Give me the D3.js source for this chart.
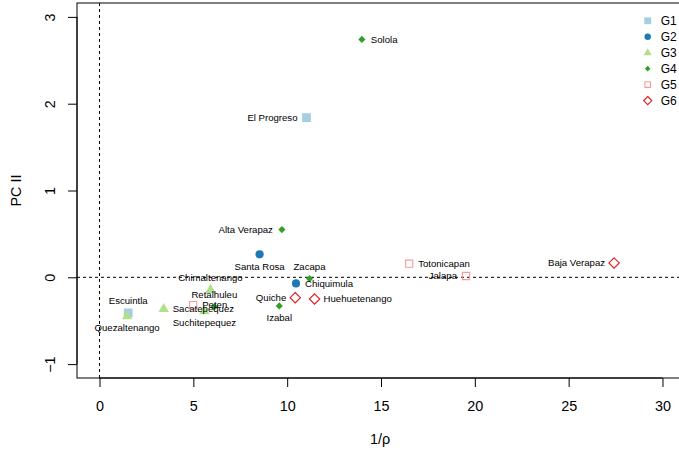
<!DOCTYPE html>
<html>
<head>
<meta charset="utf-8">
<script src="https://cdn.jsdelivr.net/npm/d3@7"></script>
<style>
  body { margin: 0; background: #fff; }
  svg { display: block; font-family: "Liberation Sans", Arial, sans-serif; }
</style>
</head>
<body>
<svg id="chart" width="679" height="451"></svg>
<script>
// Departments of Guatemala: position on 1/rho vs PC II, with group membership
const names = ["Solola", "El Progreso", "Alta Verapaz", "Santa Rosa", "Zacapa", "Chiquimula",
  "Quiche", "Huehuetenango", "Izabal", "Totonicapan", "Jalapa", "Baja Verapaz",
  "Escuintla", "Quezaltenango", "Sacatepequez", "Peten", "Retalhuleu", "Suchitepequez", "Chimaltenango"];
const invRho = [13.98, 11.03, 9.72, 8.53, 11.19, 10.47,
  10.43, 11.46, 9.58, 16.50, 19.53, 27.42,
  1.53, 1.47, 3.42, 4.99, 6.12, 5.59, 5.91];
const pc2 = [2.74, 1.84, 0.55, 0.265, -0.016, -0.07,
  -0.235, -0.25, -0.33, 0.157, 0.015, 0.165,
  -0.41, -0.445, -0.36, -0.32, -0.34, -0.385, -0.14];
const groupOf = ["G4", "G1", "G4", "G2", "G4", "G2",
  "G6", "G6", "G4", "G5", "G5", "G6",
  "G1", "G3", "G3", "G5", "G4", "G3", "G3"];
// label side: 1 below, 2 left, 3 above, 4 right
const labelPos = [4, 2, 2, 1, 3, 4,
  2, 4, 1, 4, 2, 2,
  3, 1, 4, 4, 3, 1, 3];

const groups = ["G1", "G2", "G3", "G4", "G5", "G6"];
const groupColors = ["#a6cee3", "#1f78b4", "#b2df8a", "#33a02c", "#fb9a99", "#e31a1c"];
const xTicks = [0, 5, 10, 15, 20, 25, 30];
const yTicks = [-1, 0, 1, 2, 3];

const svg = d3.select("#chart");
const plotL = 77, plotR = 685, plotT = 3, plotB = 378;
const axisFont = 14.4;

const x = d3.scaleLinear().domain([-1.2, 31.2]).range([plotL, plotR]);
const y = d3.scaleLinear().domain([-1.16, 3.16]).range([plotB, plotT]);
const color = d3.scaleOrdinal().domain(groups).range(groupColors);

// custom symbol shapes (size = half-width in px)
const shapes = {
  G1: { draw(c, s) { c.rect(-s, -s, 2 * s, 2 * s); } },
  G2: { draw(c, s) { c.moveTo(s, 0); c.arc(0, 0, s, 0, 2 * Math.PI); } },
  G3: { draw(c, s) { const h = s * 1.732; c.moveTo(0, -h * 0.62); c.lineTo(s, h * 0.38); c.lineTo(-s, h * 0.38); c.closePath(); } },
  G4: { draw(c, s) { c.moveTo(0, -s); c.lineTo(s, 0); c.lineTo(0, s); c.lineTo(-s, 0); c.closePath(); } },
  G5: { draw(c, s) { c.rect(-s, -s, 2 * s, 2 * s); } },
  G6: { draw(c, s) { c.moveTo(0, -s); c.lineTo(s, 0); c.lineTo(0, s); c.lineTo(-s, 0); c.closePath(); } }
};
const shapeSize = { G1: 4.4, G2: 4.1, G3: 5.2, G4: 3.6, G5: 3.6, G6: 5.2 };
const openGroup = { G5: true, G6: true };

function symbolPath(g, scale) {
  return d3.symbol().type(shapes[g]).size(shapeSize[g] * scale)();
}

// clip for the plot region
svg.append("clipPath").attr("id", "plotclip")
  .append("rect").attr("x", plotL).attr("y", plotT).attr("width", plotR - plotL).attr("height", plotB - plotT);

// reference lines at zero
const refs = svg.append("g").attr("clip-path", "url(#plotclip)")
  .attr("stroke", "#000").attr("stroke-width", 1).attr("stroke-dasharray", "3,3");
refs.append("line").attr("x1", x(0)).attr("x2", x(0)).attr("y1", plotT).attr("y2", plotB);
refs.append("line").attr("x1", plotL).attr("x2", plotR).attr("y1", y(0)).attr("y2", y(0));

// points
const rows = names.map((n, i) => ({ name: n, x: invRho[i], y: pc2[i], g: groupOf[i], pos: labelPos[i] }));
svg.append("g").selectAll("path").data(rows).join("path")
  .attr("transform", d => `translate(${x(d.x)},${y(d.y)})`)
  .attr("d", d => symbolPath(d.g, 1))
  .attr("fill", d => openGroup[d.g] ? "none" : color(d.g))
  .attr("stroke", d => openGroup[d.g] ? color(d.g) : "none")
  .attr("stroke-width", 1.1);

// point labels
svg.append("g").selectAll("text").data(rows).join("text")
  .attr("x", d => x(d.x) + (d.pos === 4 ? 9 : d.pos === 2 ? -9 : 0))
  .attr("y", d => y(d.y) + (d.pos === 1 ? 12 : d.pos === 3 ? -12 : 0) + 3.4)
  .attr("text-anchor", d => d.pos === 4 ? "start" : d.pos === 2 ? "end" : "middle")
  .attr("font-size", 9.6)
  .attr("fill", "#000")
  .text(d => d.name);

// box
svg.append("rect").attr("x", plotL).attr("y", plotT).attr("width", plotR - plotL).attr("height", plotB - plotT)
  .attr("fill", "none").attr("stroke", "#000").attr("stroke-width", 1);

// x axis
const xAxis = svg.append("g").attr("transform", `translate(0,${plotB})`)
  .call(d3.axisBottom(x).tickValues(xTicks).tickSize(9).tickPadding(14).tickFormat(d3.format("d")));
xAxis.select(".domain").attr("d", `M${x(0)},0H${x(30)}`);
xAxis.selectAll("text").attr("font-size", axisFont).attr("font-family", "Liberation Sans, Arial, sans-serif").attr("fill", "#000");

// y axis with rotated labels
const yAxis = svg.append("g").attr("transform", `translate(${plotL},0)`)
  .call(d3.axisLeft(y).tickValues(yTicks).tickSize(9).tickFormat(d => d < 0 ? "\u2212" + Math.abs(d) : d));
yAxis.select(".domain").attr("d", `M0,${y(-1)}V${y(3)}`);
yAxis.selectAll(".tick text")
  .attr("font-size", axisFont).attr("font-family", "Liberation Sans, Arial, sans-serif").attr("fill", "#000")
  .attr("x", null).attr("dy", null).attr("text-anchor", "middle")
  .attr("transform", "translate(-22,0) rotate(-90)");

// axis titles
svg.append("text").attr("x", (plotL + plotR) / 2 - 1).attr("y", 444)
  .attr("text-anchor", "middle").attr("font-size", axisFont).text("1/\u03C1");
svg.append("text").attr("transform", `translate(20.5,${(plotT + plotB) / 2}) rotate(-90)`)
  .attr("text-anchor", "middle").attr("font-size", axisFont).text("PC II");

// legend
const leg = svg.append("g").selectAll("g").data(groups).join("g")
  .attr("transform", (d, i) => `translate(647.7,${20.8 + i * 15.95})`);
leg.append("path")
  .attr("d", d => symbolPath(d, 0.78))
  .attr("fill", d => openGroup[d] ? "none" : color(d))
  .attr("stroke", d => openGroup[d] ? color(d) : "none")
  .attr("stroke-width", 1.1);
leg.append("text").attr("x", 13).attr("y", 4.3).attr("font-size", 12).text(d => d);
</script>
</body>
</html>
